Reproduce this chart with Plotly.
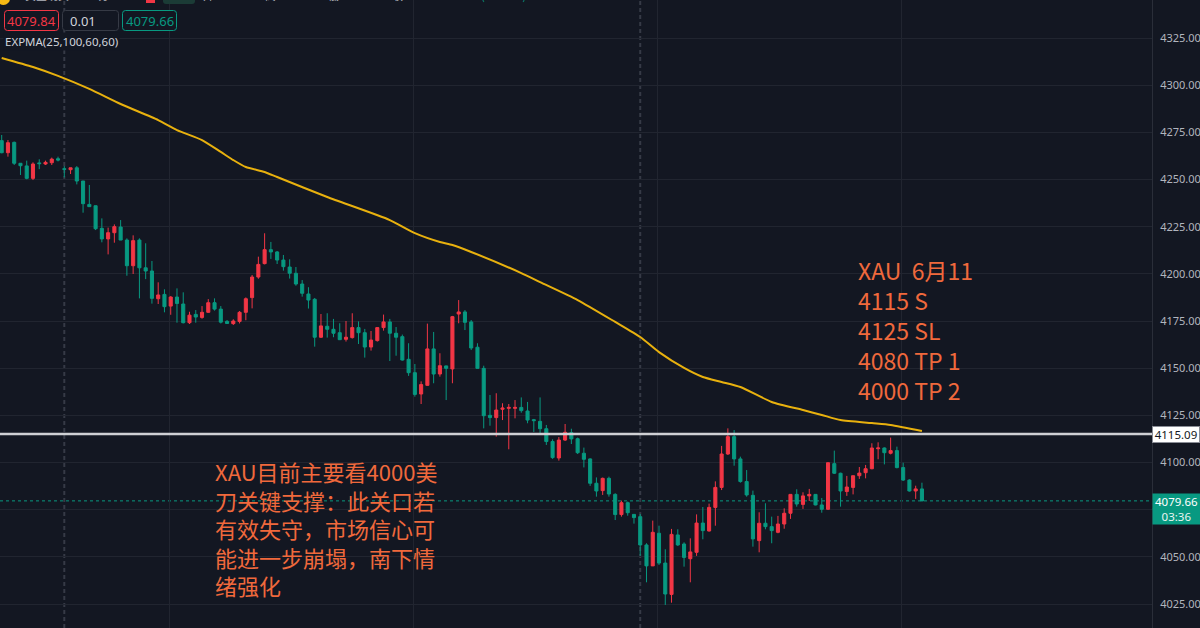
import plotly.graph_objects as go

# ---------------- data ----------------
open_ = [4270.6, 4264.2, 4269.7, 4258.6, 4257.2, 4250.6, 4258.8, 4258.2, 4258.9, 4261.0,
         4255.7, 4255.2, 4256.2, 4249.2, 4236.8, 4236.1, 4224.1, 4218.5, 4221.8, 4224.8,
         4217.9, 4204.3, 4217.9, 4203.2, 4201.5, 4186.8, 4189.1, 4182.9, 4187.7, 4184.0,
         4174.1, 4178.5, 4176.9, 4179.6, 4184.7, 4181.3, 4174.8, 4173.6, 4174.8, 4179.6,
         4187.4, 4198.3, 4205.4, 4212.8, 4211.6, 4207.3, 4203.6, 4200.3, 4194.6, 4189.3,
         4186.5, 4166.4, 4172.2, 4170.6, 4168.8, 4165.3, 4166.2, 4171.5, 4168.8, 4161.2,
         4164.6, 4171.5, 4174.5, 4168.5, 4166.7, 4154.7, 4147.6, 4136.3, 4140.9, 4160.2,
         4146.9, 4151.2, 4149.6, 4178.7, 4179.8, 4174.5, 4161.1, 4149.9, 4125.0, 4123.8,
         4128.2, 4128.7, 4128.7, 4129.2, 4127.3, 4122.7, 4121.8, 4117.9, 4111.1, 4102.4,
         4111.9, 4115.8, 4112.6, 4104.9, 4101.9, 4089.0, 4085.1, 4091.6, 4083.1, 4072.4,
         4078.7, 4072.5, 4071.3, 4056.3, 4045.2, 4062.5, 4046.7, 4030.1, 4061.6, 4056.8,
         4049.0, 4052.4, 4067.9, 4063.7, 4076.2, 4086.8, 4104.5, 4113.7, 4101.9, 4089.9,
         4082.6, 4058.6, 4067.8, 4066.0, 4063.0, 4067.4, 4073.1, 4083.1, 4077.8, 4082.3,
         4083.1, 4077.5, 4075.2, 4099.4, 4094.3, 4084.6, 4086.8, 4093.0, 4094.6, 4096.7,
         4107.3, 4107.7, 4104.9, 4106.3, 4097.3, 4090.7, 4084.9, 4086.0]
close = [4264.2, 4269.5, 4258.6, 4257.3, 4250.6, 4258.2, 4258.4, 4259.1, 4260.8, 4260.3,
         4255.4, 4256.2, 4249.2, 4237.2, 4235.6, 4223.9, 4218.5, 4221.8, 4225.0, 4217.9,
         4204.3, 4217.6, 4203.2, 4201.5, 4187.0, 4188.8, 4182.6, 4187.7, 4184.3, 4174.1,
         4178.1, 4177.1, 4179.6, 4184.7, 4181.3, 4174.4, 4173.7, 4175.0, 4179.6, 4186.8,
         4198.3, 4205.0, 4212.8, 4211.6, 4207.3, 4203.8, 4200.3, 4194.6, 4189.7, 4186.1,
         4166.4, 4172.4, 4170.6, 4168.5, 4165.1, 4166.4, 4171.5, 4168.8, 4161.2, 4164.9,
         4171.5, 4174.5, 4168.5, 4166.4, 4154.3, 4147.6, 4136.1, 4141.3, 4160.2, 4146.9,
         4151.3, 4149.9, 4177.3, 4179.8, 4174.3, 4160.7, 4149.9, 4124.8, 4123.8, 4127.8,
         4128.9, 4129.2, 4129.2, 4127.5, 4122.5, 4122.2, 4117.9, 4111.1, 4102.6, 4111.9,
         4116.0, 4112.5, 4105.2, 4101.7, 4089.0, 4084.9, 4091.6, 4083.3, 4072.4, 4078.7,
         4073.4, 4070.8, 4056.3, 4045.2, 4063.0, 4046.7, 4030.3, 4061.9, 4056.3, 4049.7,
         4052.6, 4067.9, 4063.9, 4076.2, 4086.8, 4104.5, 4113.7, 4101.9, 4089.9, 4082.8,
         4059.5, 4067.8, 4066.0, 4063.9, 4067.4, 4073.1, 4083.1, 4078.0, 4082.3, 4083.1,
         4077.5, 4075.2, 4099.9, 4094.3, 4084.9, 4087.0, 4093.0, 4094.4, 4096.7, 4107.7,
         4107.7, 4105.2, 4106.3, 4097.3, 4090.7, 4084.9, 4086.0, 4079.66]
high = [4273.6, 4270.9, 4270.1, 4258.6, 4260.0, 4259.1, 4260.7, 4260.0, 4261.6, 4262.1,
        4257.1, 4256.2, 4257.1, 4249.2, 4247.1, 4236.1, 4229.4, 4224.5, 4226.2, 4228.5,
        4218.8, 4220.4, 4218.8, 4216.2, 4206.8, 4195.5, 4191.8, 4188.2, 4192.3, 4190.2,
        4179.9, 4180.8, 4182.9, 4186.6, 4187.0, 4182.9, 4175.5, 4175.9, 4180.3, 4187.5,
        4199.4, 4209.1, 4221.5, 4216.9, 4212.1, 4210.0, 4207.7, 4203.6, 4196.7, 4192.9,
        4187.2, 4178.7, 4179.1, 4176.1, 4173.8, 4175.0, 4179.1, 4174.8, 4170.8, 4169.7,
        4171.6, 4178.4, 4176.1, 4171.8, 4167.8, 4163.2, 4152.2, 4143.0, 4173.6, 4169.2,
        4157.9, 4151.3, 4177.7, 4186.1, 4180.8, 4175.5, 4163.2, 4151.3, 4135.8, 4136.7,
        4131.4, 4131.0, 4133.1, 4134.5, 4132.1, 4123.1, 4134.5, 4119.9, 4112.3, 4113.5,
        4120.4, 4117.9, 4113.2, 4107.9, 4102.2, 4092.1, 4092.0, 4092.5, 4083.7, 4079.8,
        4079.3, 4072.5, 4072.7, 4057.2, 4069.2, 4066.5, 4054.0, 4064.8, 4064.6, 4057.7,
        4059.8, 4072.5, 4076.4, 4078.2, 4090.0, 4108.8, 4118.1, 4117.2, 4103.1, 4096.0,
        4085.1, 4073.6, 4078.4, 4071.3, 4071.7, 4075.7, 4083.3, 4085.8, 4084.2, 4086.0,
        4083.3, 4081.2, 4099.9, 4106.3, 4094.6, 4092.9, 4093.0, 4097.6, 4098.7, 4110.2,
        4110.7, 4108.0, 4113.2, 4108.4, 4099.9, 4091.1, 4087.7, 4089.3]
low = [4263.9, 4262.1, 4257.7, 4252.4, 4250.1, 4249.7, 4255.5, 4257.7, 4257.7, 4259.6,
       4251.1, 4252.9, 4247.4, 4232.4, 4235.6, 4223.2, 4216.7, 4210.3, 4216.5, 4217.9,
       4199.0, 4199.9, 4187.0, 4197.2, 4184.2, 4184.0, 4179.6, 4178.3, 4174.1, 4173.7,
       4173.4, 4174.1, 4176.2, 4179.4, 4180.5, 4173.7, 4173.4, 4172.9, 4173.7, 4175.4,
       4181.7, 4197.4, 4205.0, 4207.9, 4205.2, 4201.7, 4197.5, 4193.7, 4187.9, 4181.6,
       4161.4, 4166.0, 4166.2, 4166.4, 4164.9, 4164.1, 4165.7, 4162.8, 4155.6, 4159.3,
       4164.1, 4169.9, 4153.8, 4156.6, 4154.0, 4145.9, 4134.9, 4131.0, 4140.7, 4142.0,
       4145.5, 4133.1, 4142.0, 4173.8, 4170.2, 4159.6, 4149.8, 4118.1, 4119.5, 4113.7,
       4122.5, 4107.0, 4123.4, 4126.4, 4120.8, 4116.2, 4114.6, 4109.3, 4101.9, 4101.0,
       4111.4, 4109.8, 4104.5, 4097.4, 4087.6, 4081.9, 4082.8, 4081.9, 4069.5, 4071.3,
       4071.8, 4067.6, 4050.5, 4036.5, 4045.2, 4045.7, 4024.5, 4025.7, 4055.8, 4044.8,
       4036.5, 4050.5, 4059.3, 4063.4, 4066.5, 4085.4, 4104.0, 4098.3, 4089.3, 4081.9,
       4055.4, 4052.4, 4064.6, 4057.2, 4062.5, 4064.9, 4070.1, 4076.6, 4075.4, 4079.6,
       4077.3, 4073.4, 4074.8, 4093.9, 4076.6, 4082.3, 4083.1, 4091.3, 4091.6, 4096.4,
       4101.7, 4099.0, 4104.3, 4096.9, 4090.2, 4084.6, 4080.7, 4079.5]
bar_index = list(range(len(open_)))

# EXPMA line, read at selected bars
ema_index = [0, 5, 9, 14, 19, 25, 28, 32, 35, 37, 39, 42, 44, 52, 62, 66, 70, 72, 75,
             83, 86, 92, 98, 102, 105, 109, 112, 115, 118, 123, 128, 131, 134, 139, 142, 147]
ema_value = [4314.4, 4309.6, 4304.9, 4298.0, 4290.0, 4281.5, 4276.2, 4270.9, 4264.6, 4260.3,
             4256.6, 4254.0, 4251.3, 4240.7, 4228.5, 4221.6, 4216.9, 4215.3, 4211.6,
             4200.4, 4195.6, 4186.1, 4174.5, 4166.5, 4158.5, 4150.1, 4145.3, 4142.7, 4140.0,
             4132.1, 4127.8, 4125.2, 4122.5, 4120.9, 4119.9, 4116.7]

# price axis ticks (4075 is hidden under the last-price tag)
y_ticks = [4025, 4050, 4075, 4100, 4125, 4150, 4175, 4200, 4225, 4250, 4275, 4300, 4325]
y_tick_text = ["4025.00", "4050.00", "", "4100.00", "4125.00", "4150.00", "4175.00",
               "4200.00", "4225.00", "4250.00", "4275.00", "4300.00", "4325.00"]

level_price = 4115.09
last_price = 4079.66
bid_price = 4079.84
spread = 0.01
countdown = "03:36"
ema_label = "EXPMA(25,100,60,60)"

plan_lines = ["XAU\u00a0\u00a06月11", "4115 S", "4125 SL", "4080 TP 1", "4000 TP 2"]
note_lines = ["XAU目前主要看4000美", "刀关键支撑：此关口若", "有效失守，市场信心可",
              "能进一步崩塌，南下情", "绪强化"]

# ---------------- styling / layout helpers ----------------
W, H = 1200, 628
PW = 1152
BG = "#131722"
UP = "#F23645"
DOWN = "#089981"
ORANGE = "#F0693C"
GRID = "#212530"
FONT = "Noto Sans, Noto Sans CJK SC, sans-serif"
CJK = "Noto Sans CJK SC, Noto Sans, sans-serif"


def px(x):
    return x / PW


def py(y):
    return 1 - y / H


def rrect(x0, y0, x1, y1, r=3):
    X0, X1, Y0, Y1 = px(x0), px(x1), py(y0), py(y1)
    rx, ry = r / PW, r / H
    return (f"M {X0+rx},{Y0} L {X1-rx},{Y0} Q {X1},{Y0} {X1},{Y0-ry} "
            f"L {X1},{Y1+ry} Q {X1},{Y1} {X1-rx},{Y1} L {X0+rx},{Y1} "
            f"Q {X0},{Y1} {X0},{Y1+ry} L {X0},{Y0-ry} Q {X0},{Y0} {X0+rx},{Y0} Z")


fig = go.Figure()

fig.add_trace(go.Candlestick(
    x=bar_index, open=open_, high=high, low=low, close=close,
    increasing=dict(line=dict(color=UP, width=1), fillcolor=UP),
    decreasing=dict(line=dict(color=DOWN, width=1), fillcolor=DOWN),
    whiskerwidth=0, hoverinfo="skip", showlegend=False,
))

fig.add_trace(go.Scatter(
    x=ema_index, y=ema_value, mode="lines",
    line=dict(color="#E8B10E", width=2, shape="spline", smoothing=0.6),
    hoverinfo="skip", showlegend=False,
))

shapes = []
# session separators (dashed)
for xv in [10, 102]:
    shapes.append(dict(type="line", xref="x", yref="paper", x0=xv, x1=xv, y0=0, y1=1,
                       line=dict(color="#363a46", width=2, dash="4px,3px"), layer="below"))
# key level line
shapes.append(dict(type="line", xref="paper", yref="y", x0=0, x1=1, y0=level_price, y1=level_price,
                   line=dict(color="#cfd0d4", width=2.5), layer="above"))
# last price dotted line
shapes.append(dict(type="line", xref="paper", yref="y", x0=0, x1=1, y0=last_price, y1=last_price,
                   line=dict(color=DOWN, width=1, dash="dot"), layer="below"))
# header boxes
shapes.append(dict(type="path", xref="paper", yref="paper", path=rrect(4.5, 10.5, 58.5, 30.5),
                   line=dict(color=UP, width=1), fillcolor=BG, layer="above"))
shapes.append(dict(type="path", xref="paper", yref="paper", path=rrect(62.5, 10.5, 118.5, 30.5),
                   line=dict(color="#363a45", width=1), fillcolor=BG, layer="above"))
shapes.append(dict(type="path", xref="paper", yref="paper", path=rrect(122.5, 10.5, 176.5, 30.5),
                   line=dict(color=DOWN, width=1), fillcolor=BG, layer="above"))
# cut-off top toolbar bits
shapes.append(dict(type="circle", xref="paper", yref="paper", x0=px(-3), x1=px(10), y0=py(5), y1=py(-8),
                   line=dict(width=0), fillcolor="#F5B914", layer="above"))
shapes.append(dict(type="rect", xref="paper", yref="paper", x0=px(146), x1=px(155), y0=py(3), y1=py(-4),
                   line=dict(width=0), fillcolor=UP, layer="above"))
shapes.append(dict(type="path", xref="paper", yref="paper", path=rrect(163, -6, 195, 4, 3),
                   line=dict(width=0), fillcolor="#1b3b36", layer="above"))

annotations = []


def ann(text, x, y, size, color, anchor="left", family=FONT, **kw):
    annotations.append(dict(text=text, xref="paper", yref="paper", x=px(x), y=py(y),
                            xanchor=anchor, yanchor="middle", showarrow=False,
                            font=dict(size=size, color=color, family=family), **kw))


ann(f"{bid_price:.2f}", 31.5, 20.5, 13, UP, anchor="center")
ann(f"{spread:.2f}", 68, 20.5, 13, "#d1d4dc")
ann(f"{last_price:.2f}", 149.5, 20.5, 13, DOWN, anchor="center")
ann(ema_label, 3, 41.5, 11.5, "#d1d4dc", bgcolor=BG, borderpad=1)

# top strip, mostly cut off
for t, x, c in [("黄金现货", 23, "#b2b5be"), ("15分", 84, "#b2b5be"), ("OTC", 119, "#b2b5be"),
                ("开", 201, "#b2b5be"), ("4088.86", 221, DOWN), ("高", 263, "#b2b5be"),
                ("4088.86", 282, DOWN), ("低", 326, "#b2b5be"), ("4079.47", 346, DOWN),
                ("收", 390, "#b2b5be"), ("4079.66 −9.20 (−0.23%)", 407, DOWN)]:
    ann(t, x, -5, 11, c, family=CJK)

# orange text blocks (one multi-line annotation each)
ann("<br>".join(plan_lines), 856, 330, 23, ORANGE, family=CJK, align="left")
ann("<br>".join(note_lines), 213, 528, 22, ORANGE, family=CJK, align="left")

# price tags on the axis
annotations.append(dict(text=f"{level_price:.2f}", xref="paper", yref="y", x=1, y=level_price,
                        xanchor="left", yanchor="middle", showarrow=False,
                        font=dict(size=11.5, color="#131722", family=FONT),
                        bgcolor="#ffffff", bordercolor="#8a8d96", borderwidth=1, borderpad=1,
                        width=44, height=13, align="center"))
annotations.append(dict(text=f"{last_price:.2f}", xref="paper", yref="y", x=1,
                        y=last_price, xanchor="left", yanchor="top", yshift=8, showarrow=False,
                        font=dict(size=11.5, color="#ffffff", family=FONT),
                        bgcolor=DOWN, borderpad=0, width=47, height=15, align="center"))
annotations.append(dict(text=countdown, xref="paper", yref="y", x=1,
                        y=last_price, xanchor="left", yanchor="top", yshift=-7, showarrow=False,
                        font=dict(size=11.5, color="#e8f5f2", family=FONT),
                        bgcolor=DOWN, borderpad=0, width=47, height=15, align="center"))

fig.update_layout(
    width=W, height=H,
    margin=dict(l=0, r=W - PW, t=0, b=0),
    paper_bgcolor=BG, plot_bgcolor=BG,
    shapes=shapes, annotations=annotations,
    showlegend=False, hovermode=False,
    xaxis=dict(range=[-0.27, 183.75], rangeslider=dict(visible=False),
               tickvals=[26.75, 65.75, 104.75, 143.75], showticklabels=False, ticks="",
               showgrid=True, gridcolor=GRID, gridwidth=1, zeroline=False, showline=False),
    yaxis=dict(range=[4012.28, 4345.14], side="right", tickmode="array",
               tickvals=y_ticks, ticktext=y_tick_text,
               showgrid=True, gridcolor=GRID, gridwidth=1, zeroline=False,
               showline=True, linecolor="#2a2e39", linewidth=1, ticks="",
               ticklabelstandoff=5,
               tickfont=dict(size=11, color="#b2b5be", family=FONT)),
)

fig.write_html("out.html")
